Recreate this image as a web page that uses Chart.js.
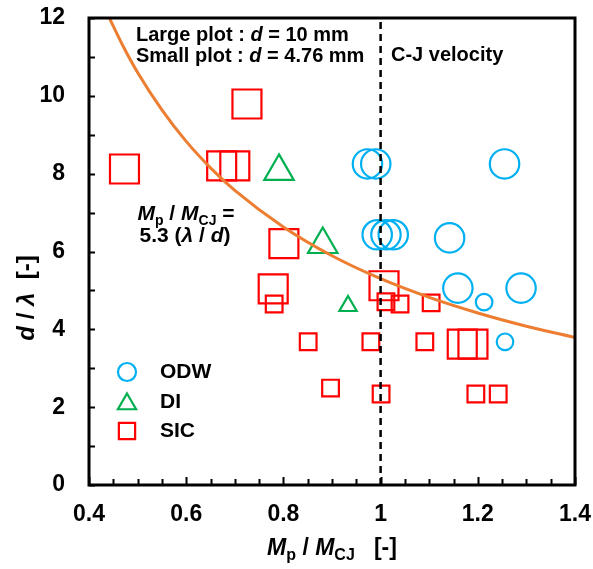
<!DOCTYPE html>
<html><head><meta charset="utf-8">
<script src="https://cdn.jsdelivr.net/npm/chart.js@4.4.0/dist/chart.umd.min.js"></script>
<style>html,body{margin:0;padding:0;background:#fff;}#wrap{width:593px;height:569px;}</style>
</head><body><div id="wrap"><canvas id="c" width="593" height="569"></canvas></div>
<script>
// ---- data ----
const odwLargeX = [0.973, 0.990, 1.255, 0.993, 1.011, 1.026, 1.142, 1.159, 1.289];
const odwLargeY = [8.25, 8.25, 8.25, 6.43, 6.43, 6.43, 6.35, 5.06, 5.06];
const odwSmallX = [1.213, 1.256];
const odwSmallY = [4.70, 3.68];
const diLargeX = [0.791, 0.881];
const diLargeY = [8.06, 6.18];
const diSmallX = [0.933];
const diSmallY = [4.60];
const sicLargeX = [0.473, 0.673, 0.700, 0.725, 0.801, 0.779, 1.007, 1.168, 1.190];
const sicLargeY = [8.12, 8.20, 8.20, 9.79, 6.20, 5.04, 5.12, 3.62, 3.62];
const sicSmallX = [0.781, 0.851, 0.897, 0.980, 1.011, 1.040, 1.104, 1.091, 1.001, 1.196, 1.242];
const sicSmallY = [4.65, 3.68, 2.49, 3.68, 4.71, 4.65, 4.68, 3.68, 2.34, 2.34, 2.34];
// fitted curve  Mp/MCJ = 5.3 (λ/d)
const curveX = [0.44, 0.47, 0.50, 0.55, 0.60, 0.65, 0.70, 0.80, 0.90, 1.00, 1.10, 1.20, 1.30, 1.40];
const curveY = [12.05, 11.28, 10.60, 9.64, 8.83, 8.15, 7.57, 6.63, 5.89, 5.30, 4.82, 4.42, 4.08, 3.79];
// C-J velocity line
const cjX = [1, 1];
const cjY = [0, 12];
// axes
const xRange = [0.4, 1.4];
const yRange = [0, 12];
const seriesNames = ['ODW', 'DI', 'SIC'];

const FONT = "'Liberation Sans', Arial, Helvetica, sans-serif";
const BLUE = '#00B0F0', GREEN = '#00B050', RED = '#FF0000', ORANGE = '#ED7D31';
const pts = (xs, ys) => xs.map((x, i) => ({x: x, y: ys[i]}));

function scatterSet(label, xs, ys, color, style, r) {
  return {label: label, data: pts(xs, ys), pointStyle: style, pointRadius: r, pointHoverRadius: r,
    borderColor: color, backgroundColor: 'rgba(0,0,0,0)', pointBorderWidth: 2.2, borderWidth: 2.2, showLine: false};
}

function fontFor(s, size) {
  const sz = s.sub ? Math.round(size * 0.68) : size;
  return (s.it ? 'italic ' : '') + 'bold ' + sz + 'px ' + FONT;
}
function richWidth(ctx, segs, size) {
  let w = 0;
  for (const s of segs) { ctx.font = fontFor(s, size); w += ctx.measureText(s.t).width; }
  return w;
}
function drawRich(ctx, segs, x, y, size, align) {
  const w = richWidth(ctx, segs, size);
  let cx = align === 'center' ? x - w / 2 : (align === 'right' ? x - w : x);
  ctx.textAlign = 'left'; ctx.textBaseline = 'alphabetic'; ctx.fillStyle = '#000';
  for (const s of segs) {
    ctx.font = fontFor(s, size);
    ctx.fillText(s.t, cx, y + (s.sub ? size * 0.22 : 0));
    cx += ctx.measureText(s.t).width;
  }
}
function marker(ctx, style, x, y, r, color) {
  ctx.save(); ctx.strokeStyle = color; ctx.lineWidth = 2.2; ctx.beginPath();
  if (style === 'circle') ctx.arc(x, y, r, 0, Math.PI * 2);
  else if (style === 'triangle') {
    ctx.moveTo(x, y - r); ctx.lineTo(x + r * 0.866, y + r / 2); ctx.lineTo(x - r * 0.866, y + r / 2); ctx.closePath();
  } else { const h = r * Math.SQRT1_2; ctx.rect(x - h, y - h, 2 * h, 2 * h); }
  ctx.stroke(); ctx.restore();
}

const decor = {
  id: 'decor',
  afterDraw(chart) {
    const ctx = chart.ctx, a = chart.chartArea, xs = chart.scales.x, ys = chart.scales.y;
    ctx.save();
    // tick marks pointing inward
    ctx.strokeStyle = '#000'; ctx.lineWidth = 2;
    for (let i = 0; i <= 20; i++) {
      const px = Math.round(xs.getPixelForValue(xRange[0] + i * 0.05)) + 0.5;
      const len = (i % 4 === 0) ? 8 : 6;
      ctx.beginPath(); ctx.moveTo(px, a.bottom); ctx.lineTo(px, a.bottom - len); ctx.stroke();
    }
    for (let v = yRange[0]; v <= yRange[1]; v++) {
      const py = Math.round(ys.getPixelForValue(v)) + 0.5;
      ctx.beginPath(); ctx.moveTo(a.left, py); ctx.lineTo(a.left + 6, py); ctx.stroke();
    }
    // frame
    ctx.lineWidth = 3;
    ctx.strokeRect(a.left, a.top, a.right - a.left, a.bottom - a.top);

    // annotations
    drawRich(ctx, [{t: 'Large plot : '}, {t: 'd', it: true}, {t: ' = 10 mm'}], 136, 41, 20, 'left');
    drawRich(ctx, [{t: 'Small plot : '}, {t: 'd', it: true}, {t: ' = 4.76 mm'}], 136, 62, 20, 'left');
    drawRich(ctx, [{t: 'C-J velocity'}], 391, 61, 20, 'left');
    drawRich(ctx, [{t: 'M', it: true}, {t: 'p', sub: true}, {t: ' / '}, {t: 'M', it: true}, {t: 'CJ', sub: true}, {t: ' ='}], 186, 220, 21, 'center');
    drawRich(ctx, [{t: '5.3 ('}, {t: 'λ', it: true}, {t: ' / '}, {t: 'd', it: true}, {t: ')'}], 185, 242, 21, 'center');

    // legend
    const lg = [[seriesNames[0], 'circle', BLUE, 9, 372], [seriesNames[1], 'triangle', GREEN, 10.5, 404], [seriesNames[2], 'rect', RED, 11.5, 431]];
    for (const [name, st, col, r, yy] of lg) {
      marker(ctx, st, 127, yy, r, col);
      ctx.font = 'bold 21px ' + FONT; ctx.fillStyle = '#000'; ctx.textAlign = 'left'; ctx.textBaseline = 'middle';
      ctx.fillText(name, 160, st === 'triangle' ? yy - 2 : yy);
    }

    // axis titles
    const cxMid = (a.left + a.right) / 2;
    drawRich(ctx, [{t: 'M', it: true}, {t: 'p', sub: true}, {t: ' / '}, {t: 'M', it: true}, {t: 'CJ', sub: true}, {t: '   [-]'}], cxMid, 555, 23, 'center');
    ctx.save();
    ctx.translate(34, 298); ctx.rotate(-Math.PI / 2);
    drawRich(ctx, [{t: 'd', it: true}, {t: ' / '}, {t: 'λ', it: true}, {t: '  [-]'}], 0, 0, 24, 'center');
    ctx.restore();
    ctx.restore();
  }
};

function noPad(s) { s.paddingTop = 0; s.paddingBottom = 0; s.paddingLeft = 0; s.paddingRight = 0; }

new Chart(document.getElementById('c'), {
  type: 'scatter',
  data: {
    datasets: [
      {label: 'C-J velocity', data: pts(cjX, cjY), showLine: true, borderColor: '#000', borderWidth: 2.5,
        borderDash: [7, 5], pointRadius: 0, fill: false},
      {label: 'fit', data: pts(curveX, curveY), showLine: true, borderColor: ORANGE, borderWidth: 3,
        pointRadius: 0, fill: false, cubicInterpolationMode: 'monotone'},
      scatterSet('ODW', odwLargeX, odwLargeY, BLUE, 'circle', 14.7),
      scatterSet('ODW small', odwSmallX, odwSmallY, BLUE, 'circle', 8.3),
      scatterSet('DI', diLargeX, diLargeY, GREEN, 'triangle', 17),
      scatterSet('DI small', diSmallX, diSmallY, GREEN, 'triangle', 10),
      scatterSet('SIC', sicLargeX, sicLargeY, RED, 'rect', 20.5),
      scatterSet('SIC small', sicSmallX, sicSmallY, RED, 'rect', 11.8)
    ]
  },
  options: {
    responsive: false, animation: false,
    layout: {autoPadding: false, padding: {left: 0, right: 18, top: 18, bottom: 0}},
    plugins: {legend: {display: false}, tooltip: {enabled: false}},
    scales: {
      x: {type: 'linear', min: xRange[0], max: xRange[1],
        ticks: {stepSize: 0.2, autoSkip: false, maxRotation: 0, color: '#000', padding: 16,
          font: {family: FONT, size: 23, weight: 'bold'}, callback: v => String(+(+v).toFixed(1))},
        grid: {display: false, drawTicks: false}, border: {display: false},
        afterFit(s) { s.height = 84; noPad(s); }},
      y: {type: 'linear', min: yRange[0], max: yRange[1],
        ticks: {stepSize: 2, autoSkip: false, color: '#000', padding: 24,
          font: {family: FONT, size: 23, weight: 'bold'}},
        grid: {display: false, drawTicks: false}, border: {display: false},
        afterFit(s) { s.width = 89; noPad(s); }}
    }
  },
  plugins: [decor]
});
</script>
</body></html>
